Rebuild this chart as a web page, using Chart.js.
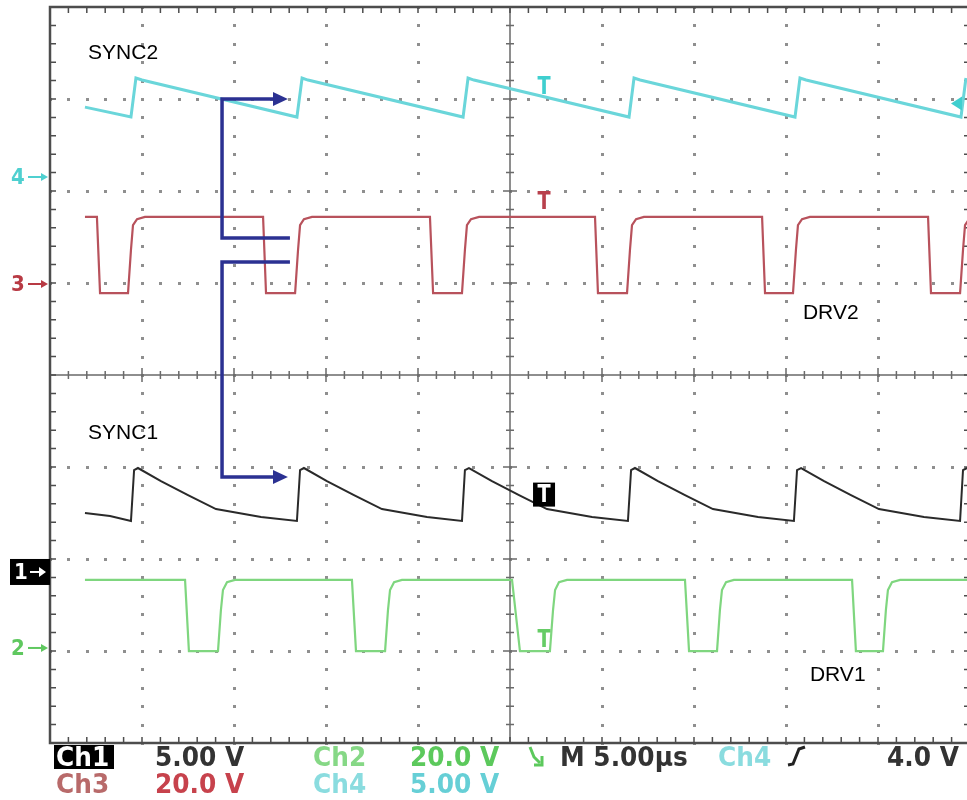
<!DOCTYPE html>
<html>
<head>
<meta charset="utf-8">
<script src="https://cdn.jsdelivr.net/npm/chart.js@4.4.1/dist/chart.umd.min.js"></script>
<style>
html, body { margin: 0; padding: 0; overflow: hidden; background: #fff; }
canvas { display: block; }
</style>
</head>
<body>
<canvas id="scope" width="980" height="800"></canvas>
<script>
// time axis in µs (M 5.00µs / div, 10 div)
const sync2Time = [1.90, 4.40, 4.67, 5.00, 13.42, 13.70, 14.02, 22.45, 22.72, 23.04, 31.47, 31.74, 32.07, 40.49, 40.76, 41.09, 49.51, 49.78];
const sync2Volts = [3.80, 3.26, 5.38, 5.27, 3.26, 5.38, 5.27, 3.26, 5.38, 5.27, 3.26, 5.38, 5.27, 3.26, 5.38, 5.27, 3.26, 5.38];

const drv2Time = [1.90,
  2.55, 2.72, 4.24, 4.40, 4.51, 4.73, 5.16,
  11.58, 11.74, 13.32, 13.48, 13.59, 13.80, 14.24,
  20.65, 20.82, 22.39, 22.55, 22.66, 22.88, 23.32,
  29.62, 29.78, 31.36, 31.52, 31.63, 31.85, 32.28,
  38.70, 38.86, 40.38, 40.54, 40.65, 40.87, 41.30,
  47.72, 47.88, 49.46, 49.62, 49.73, 49.95];
const drv2Volts = [14.6,
  14.6, -2.0, -2.0, 7.4, 12.8, 14.1, 14.6,
  14.6, -2.0, -2.0, 7.4, 12.8, 14.1, 14.6,
  14.6, -2.0, -2.0, 7.4, 12.8, 14.1, 14.6,
  14.6, -2.0, -2.0, 7.4, 12.8, 14.1, 14.6,
  14.6, -2.0, -2.0, 7.4, 12.8, 14.1, 14.6,
  14.6, -2.0, -2.0, 7.4, 12.8, 14.1];

const sync1Time = [1.90, 3.26,
  4.40, 4.57, 4.78, 6.03, 7.50, 9.02, 11.47,
  13.42, 13.59, 13.80, 15.05, 16.52, 18.04, 20.49,
  22.39, 22.55, 22.77, 24.02, 25.49, 27.01, 29.46,
  31.41, 31.58, 31.79, 33.04, 34.51, 36.03, 38.48,
  40.43, 40.60, 40.82, 42.07, 43.53, 45.05, 47.50,
  49.46, 49.62, 49.84];
const sync1Volts = [3.20, 3.04,
  2.77, 5.54, 5.65, 4.94, 4.18, 3.42, 2.99,
  2.77, 5.54, 5.65, 4.94, 4.18, 3.42, 2.99,
  2.77, 5.54, 5.65, 4.94, 4.18, 3.42, 2.99,
  2.77, 5.54, 5.65, 4.94, 4.18, 3.42, 2.99,
  2.77, 5.54, 5.65, 4.94, 4.18, 3.42, 2.99,
  2.77, 5.54, 5.65];

const drv1Time = [1.90,
  7.34, 7.55, 9.13, 9.29, 9.40, 9.62, 10.05,
  16.41, 16.63, 18.21, 18.37, 18.48, 18.70, 19.13,
  25.11, 25.54, 27.17, 27.34, 27.45, 27.66, 28.10,
  34.51, 34.73, 36.25, 36.41, 36.52, 36.74, 37.17,
  43.59, 43.80, 45.27, 45.43, 45.54, 45.76, 46.20,
  50.00];
const drv1Volts = [14.8,
  14.8, -0.7, -0.7, 8.3, 12.6, 14.3, 14.8,
  14.8, -0.7, -0.7, 8.3, 12.6, 14.3, 14.8,
  14.8, -0.7, -0.7, 8.3, 12.6, 14.3, 14.8,
  14.8, -0.7, -0.7, 8.3, 12.6, 14.3, 14.8,
  14.8, -0.7, -0.7, 8.3, 12.6, 14.3, 14.8,
  14.8];

// channel setup: ground marker (in divisions from centre) and V/div
const ch1 = { num: '1', offset: -2.141, perDiv: 5, color: '#2a2a2a', mark: '#000' };
const ch2 = { num: '2', offset: -2.967, perDiv: 20, color: '#7fd67f', mark: '#5fc85f' };
const ch3 = { num: '3', offset: 0.989, perDiv: 20, color: '#b8525c', mark: '#b83a44' };
const ch4 = { num: '4', offset: 2.152, perDiv: 5, color: '#6ad6da', mark: '#4fd0d0' };

const triggerTime = 26.85;
const triggerLevel = 4.0; // V on Ch4

function toPoints(times, volts, ch) {
  return times.map((t, i) => ({ x: t, y: ch.offset + volts[i] / ch.perDiv }));
}

// graticule: dotted divisions, centre cross, border ticks
const gridPlugin = {
  id: 'scopeGrid',
  beforeDatasetsDraw(chart) {
    const ctx = chart.ctx;
    const xs = chart.scales.x, ys = chart.scales.y;
    const px = v => xs.getPixelForValue(v);
    const py = v => ys.getPixelForValue(v);
    ctx.save();

    // dots
    ctx.fillStyle = '#8f8f8f';
    for (let t = 5; t < 50; t += 5) {
      if (t === 25) continue;
      for (let k = 0; k <= 40; k++) {
        ctx.fillRect(Math.round(px(t)) - 1, Math.round(py(-4 + k * 0.2)) - 1, 3, 3);
      }
    }
    for (let d = -3; d <= 3; d++) {
      if (d === 0) continue;
      for (let k = 0; k <= 50; k++) {
        ctx.fillRect(Math.round(px(k)) - 1, Math.round(py(d)) - 1, 3, 3);
      }
    }

    // centre cross
    ctx.strokeStyle = '#6a6a6a';
    ctx.lineWidth = 1.5;
    ctx.beginPath();
    ctx.moveTo(px(0), py(0)); ctx.lineTo(px(50), py(0));
    ctx.moveTo(px(25), py(-4)); ctx.lineTo(px(25), py(4));
    for (let k = 0; k <= 50; k++) {
      const len = k % 5 === 0 ? 7 : 4;
      ctx.moveTo(px(k), py(0) - len); ctx.lineTo(px(k), py(0) + len);
    }
    for (let k = 0; k <= 40; k++) {
      const y = -4 + k * 0.2;
      const len = k % 5 === 0 ? 7 : 4;
      ctx.moveTo(px(25) - len, py(y)); ctx.lineTo(px(25) + len, py(y));
    }
    ctx.stroke();

    // border with inward ticks
    ctx.strokeStyle = '#4d4d4d';
    ctx.lineWidth = 2.5;
    ctx.strokeRect(px(0), py(4), px(50) - px(0), py(-4) - py(4));
    ctx.lineWidth = 1.5;
    ctx.beginPath();
    for (let k = 0; k <= 50; k++) {
      ctx.moveTo(px(k), py(4)); ctx.lineTo(px(k), py(4) + 6);
      ctx.moveTo(px(k), py(-4)); ctx.lineTo(px(k), py(-4) - 6);
    }
    for (let k = 0; k <= 40; k++) {
      const y = py(-4 + k * 0.2);
      ctx.moveTo(px(0), y); ctx.lineTo(px(0) + 6, y);
      ctx.moveTo(px(50), y); ctx.lineTo(px(50) - 6, y);
    }
    ctx.stroke();
    ctx.restore();
  }
};

function condText(ctx, s, x, y, color, sx) {
  ctx.save();
  ctx.translate(x, y);
  ctx.scale(sx || 0.92, 1);
  ctx.fillStyle = color;
  ctx.fillText(s, 0, 0);
  ctx.restore();
}

function arrowPath(ctx, pts, tip) {
  ctx.beginPath();
  ctx.moveTo(pts[0][0], pts[0][1]);
  for (let i = 1; i < pts.length; i++) ctx.lineTo(pts[i][0], pts[i][1]);
  ctx.stroke();
  const last = pts[pts.length - 1];
  ctx.beginPath();
  ctx.moveTo(last[0], last[1] - 7);
  ctx.lineTo(tip[0], tip[1]);
  ctx.lineTo(last[0], last[1] + 7);
  ctx.closePath();
  ctx.fill();
}

const overlayPlugin = {
  id: 'scopeOverlay',
  afterDatasetsDraw(chart) {
    const ctx = chart.ctx;
    const xs = chart.scales.x, ys = chart.scales.y;
    const px = v => xs.getPixelForValue(v);
    const py = v => ys.getPixelForValue(v);
    ctx.save();

    // trigger markers on traces
    ctx.font = 'bold 24px "DejaVu Sans"';
    ctx.textAlign = 'center';
    ctx.textBaseline = 'middle';
    const tx = px(triggerTime);
    condText(ctx, 'T', tx, py(3.12), '#3fcfcf', 0.8);
    condText(ctx, 'T', tx, py(1.87), '#b8404c', 0.8);
    condText(ctx, 'T', tx, py(-2.89), '#66cc66', 0.8);
    ctx.fillStyle = '#000';
    ctx.fillRect(tx - 11, py(-1.30) - 12, 22, 24);
    condText(ctx, 'T', tx, py(-1.30) + 1, '#fff', 0.8);

    // trigger level arrow at right edge
    const ly = py(ch4.offset + triggerLevel / ch4.perDiv);
    ctx.fillStyle = '#3fcfcf';
    ctx.beginPath();
    ctx.moveTo(951, ly); ctx.lineTo(962, ly - 7); ctx.lineTo(962, ly + 7);
    ctx.closePath(); ctx.fill();

    // blue annotation arrows
    ctx.strokeStyle = '#2b3192';
    ctx.fillStyle = '#2b3192';
    ctx.lineWidth = 3.5;
    ctx.lineJoin = 'miter';
    arrowPath(ctx, [[px(13.04), py(1.489)], [px(9.35), py(1.489)], [px(9.35), py(3.0)], [px(12.12), py(3.0)]], [px(12.93), py(3.0)]);
    arrowPath(ctx, [[px(13.04), py(1.228)], [px(9.35), py(1.228)], [px(9.35), py(-1.109)], [px(12.12), py(-1.109)]], [px(12.93), py(-1.109)]);

    // signal names
    ctx.font = '21px "Liberation Sans", Arial, sans-serif';
    ctx.textAlign = 'left';
    ctx.fillStyle = '#000';
    ctx.fillText('SYNC2', px(2.07), py(3.5));
    ctx.fillText('SYNC1', px(2.07), py(-0.63));
    ctx.fillText('DRV2', px(40.92), py(0.674));
    ctx.fillText('DRV1', px(41.30), py(-3.26));

    // channel ground markers
    ctx.font = 'bold 22px "DejaVu Sans"';
    [ch4, ch3, ch2].forEach(ch => {
      const y = py(ch.offset);
      condText(ctx, ch.num, 11, y + 1, ch.mark, 0.9);
      ctx.strokeStyle = ch.mark;
      ctx.fillStyle = ch.mark;
      ctx.lineWidth = 2;
      ctx.beginPath(); ctx.moveTo(28, y); ctx.lineTo(42, y); ctx.stroke();
      ctx.beginPath(); ctx.moveTo(48, y); ctx.lineTo(41, y - 4); ctx.lineTo(41, y + 4); ctx.closePath(); ctx.fill();
    });
    const y1 = py(ch1.offset);
    ctx.fillStyle = ch1.mark;
    ctx.fillRect(10, y1 - 13, 40, 26);
    condText(ctx, ch1.num, 14, y1 + 1, '#fff', 0.9);
    ctx.strokeStyle = '#fff'; ctx.fillStyle = '#fff'; ctx.lineWidth = 2;
    ctx.beginPath(); ctx.moveTo(30, y1); ctx.lineTo(40, y1); ctx.stroke();
    ctx.beginPath(); ctx.moveTo(46, y1); ctx.lineTo(39, y1 - 5); ctx.lineTo(39, y1 + 5); ctx.closePath(); ctx.fill();

    // readout below the graticule
    ctx.font = 'bold 27px "DejaVu Sans"';
    ctx.textBaseline = 'alphabetic';
    ctx.fillStyle = '#000';
    ctx.fillRect(54, 745, 60, 24);
    condText(ctx, 'Ch1', 56, 766, '#fff');
    condText(ctx, '5.00 V', 155, 766, '#333');
    condText(ctx, 'Ch2', 313, 766, '#86d886');
    condText(ctx, '20.0 V', 410, 766, '#5cc95c');
    condText(ctx, 'M 5.00µs', 560, 766, '#333');
    condText(ctx, 'Ch4', 718, 766, '#8adcdf');
    condText(ctx, '4.0 V', 887, 766, '#333');
    condText(ctx, 'Ch3', 56, 793, '#b86a6a');
    condText(ctx, '20.0 V', 155, 793, '#c7424c');
    condText(ctx, 'Ch4', 313, 793, '#8adcdf');
    condText(ctx, '5.00 V', 410, 793, '#66cfd6');

    // trigger source / slope icons
    ctx.strokeStyle = '#5cc95c'; ctx.lineWidth = 3;
    ctx.beginPath(); ctx.moveTo(530, 747); ctx.lineTo(534, 757); ctx.lineTo(540, 763); ctx.stroke();
    ctx.beginPath(); ctx.moveTo(542, 756); ctx.lineTo(542, 765); ctx.lineTo(534, 765); ctx.stroke();
    ctx.strokeStyle = '#222'; ctx.lineWidth = 3;
    ctx.beginPath(); ctx.moveTo(788, 765); ctx.lineTo(793, 764); ctx.lineTo(799, 749); ctx.lineTo(805, 747); ctx.stroke();
    ctx.restore();
  }
};

const ctx = document.getElementById('scope').getContext('2d');
const scope = new Chart(ctx, {
  type: 'line',
  data: {
    datasets: [
      { label: 'SYNC2', data: toPoints(sync2Time, sync2Volts, ch4), borderColor: ch4.color, borderWidth: 3 },
      { label: 'DRV2', data: toPoints(drv2Time, drv2Volts, ch3), borderColor: ch3.color, borderWidth: 2.2 },
      { label: 'SYNC1', data: toPoints(sync1Time, sync1Volts, ch1), borderColor: ch1.color, borderWidth: 2 },
      { label: 'DRV1', data: toPoints(drv1Time, drv1Volts, ch2), borderColor: ch2.color, borderWidth: 2.2 }
    ]
  },
  options: {
    responsive: false,
    animation: false,
    devicePixelRatio: 1,
    layout: { padding: { left: 50, right: 10, top: 7, bottom: 57 } },
    elements: { point: { radius: 0 }, line: { tension: 0 } },
    scales: {
      x: { type: 'linear', min: 0, max: 50, display: false },
      y: { type: 'linear', min: -4, max: 4, display: false }
    },
    plugins: { legend: { display: false }, tooltip: { enabled: false } }
  },
  plugins: [gridPlugin, overlayPlugin]
});
</script>
</body>
</html>
